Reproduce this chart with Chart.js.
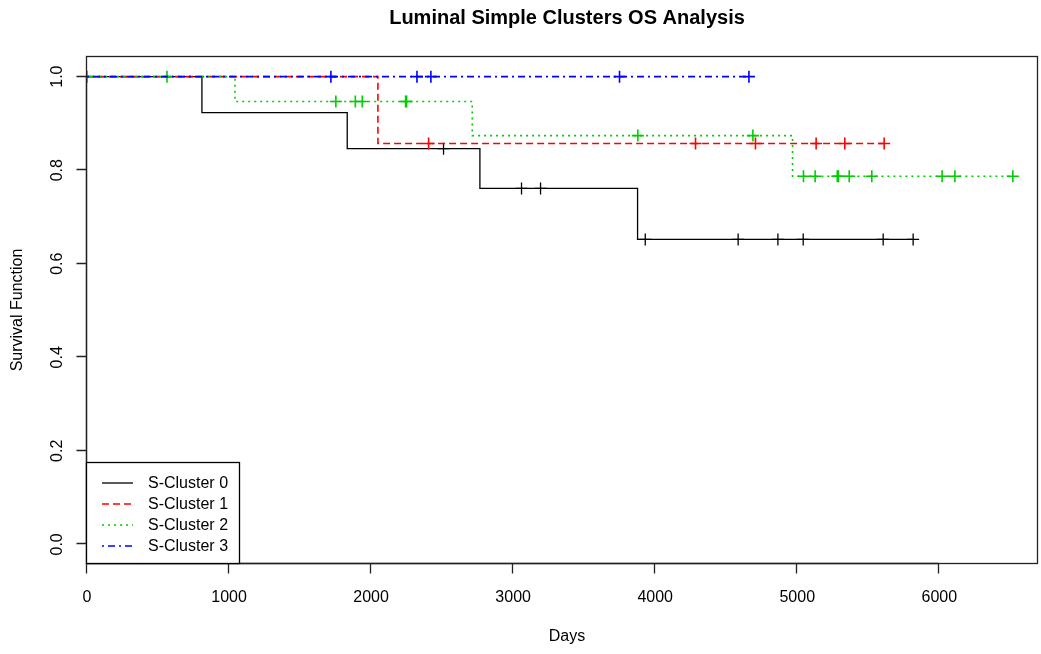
<!DOCTYPE html>
<html>
<head>
<meta charset="utf-8">
<title>Luminal Simple Clusters OS Analysis</title>
<script src="https://cdn.jsdelivr.net/npm/chart.js@4.4.1/dist/chart.umd.min.js"></script>
<style>
  html, body { margin: 0; padding: 0; background: #ffffff; overflow: hidden; }
  #km { display: block; }
</style>
</head>
<body>
<canvas id="km" width="1041" height="654"></canvas>
<script>
// Kaplan-Meier curves: event days with the survival level after each event,
// plus censoring days (drawn as "+" marks on the curve).
const clusterNames = ['S-Cluster 0', 'S-Cluster 1', 'S-Cluster 2', 'S-Cluster 3'];

const cluster0EventDays = [809, 1832, 2766, 3876];
const cluster0Survival  = [0.923, 0.846, 0.761, 0.652];
const cluster0CensorDays = [2510, 3059, 3193, 3930, 4584, 4864, 5042, 5605, 5816];

const cluster1EventDays = [2048];
const cluster1Survival  = [0.857];
const cluster1CensorDays = [2405, 4284, 4706, 5133, 5335, 5612];

const cluster2EventDays = [1042, 2712, 4967];
const cluster2Survival  = [0.947, 0.874, 0.787];
const cluster2CensorDays = [0, 563, 1752, 1889, 1938, 2243, 2250, 3878, 4688,
                            5044, 5126, 5282, 5290, 5366, 5525, 6020, 6110, 6518];

const cluster3EventDays = [];
const cluster3Survival  = [];
const cluster3CensorDays = [1717, 2323, 2421, 3749, 4660];

const dayTicks = [0, 1000, 2000, 3000, 4000, 5000, 6000];
const survivalTicks = [0.0, 0.2, 0.4, 0.6, 0.8, 1.0];
const survivalTickLabels = ['0.0', '0.2', '0.4', '0.6', '0.8', '1.0'];

const clusterColors = ['#000000', '#ff0000', '#00cd00', '#0000ff'];
const clusterDashes = [[], [7, 4], [2, 4], [2, 4, 7, 4]];
const clusterWidths = [1.3, 1.6, 1.6, 1.6];

const FONT = "'Liberation Sans', Arial, Helvetica, sans-serif";

function curvePoints(events, surv, censors) {
  const pts = [{ x: 0, y: 1 }];
  events.forEach((d, i) => pts.push({ x: d, y: surv[i] }));
  const lastDay = Math.max(...censors, ...events);
  pts.push({ x: lastDay, y: pts[pts.length - 1].y });
  return pts;
}

function levelAt(events, surv, day) {
  let s = 1;
  events.forEach((d, i) => { if (d <= day) s = surv[i]; });
  return s;
}

function censorPoints(events, surv, censors) {
  return censors.map(d => ({ x: d, y: levelAt(events, surv, d) }));
}

const groups = [
  [cluster0EventDays, cluster0Survival, cluster0CensorDays],
  [cluster1EventDays, cluster1Survival, cluster1CensorDays],
  [cluster2EventDays, cluster2Survival, cluster2CensorDays],
  [cluster3EventDays, cluster3Survival, cluster3CensorDays]
];

const datasets = [];
groups.forEach((g, i) => {
  datasets.push({
    label: clusterNames[i],
    data: curvePoints(g[0], g[1], g[2]),
    showLine: true,
    stepped: 'before',
    borderColor: clusterColors[i],
    borderWidth: clusterWidths[i],
    borderDash: clusterDashes[i],
    pointRadius: 0,
    fill: false,
    order: 10 - 2 * i
  });
  datasets.push({
    label: clusterNames[i] + ' censored',
    data: censorPoints(g[0], g[1], g[2]),
    showLine: false,
    pointStyle: 'cross',
    pointRadius: 6,
    pointBorderWidth: clusterWidths[i],
    pointBorderColor: clusterColors[i],
    pointBackgroundColor: clusterColors[i],
    order: 9 - 2 * i
  });
});

// Box, axes, labels, title and legend in the classic base-graphics style.
const frame = {
  id: 'frame',
  afterDraw(chart) {
    const ctx = chart.ctx;
    const a = chart.chartArea;
    const xs = chart.scales.x, ys = chart.scales.y;
    ctx.save();
    ctx.strokeStyle = '#222';
    ctx.lineWidth = 1.3;
    ctx.setLineDash([]);
    // plot box
    ctx.strokeRect(Math.round(a.left) - 0.5, Math.round(a.top) - 0.5,
                   Math.round(a.right - a.left), Math.round(a.bottom - a.top));

    ctx.fillStyle = '#000';
    ctx.font = '16px ' + FONT;

    // x axis
    const xb = Math.round(a.bottom) - 0.5;
    ctx.beginPath();
    ctx.moveTo(Math.round(xs.getPixelForValue(dayTicks[0])) - 0.5, xb);
    ctx.lineTo(Math.round(xs.getPixelForValue(dayTicks[dayTicks.length - 1])) - 0.5, xb);
    dayTicks.forEach(v => {
      const px = Math.round(xs.getPixelForValue(v)) - 0.5;
      ctx.moveTo(px, xb);
      ctx.lineTo(px, xb + 10);
    });
    ctx.stroke();
    ctx.textAlign = 'center';
    ctx.textBaseline = 'middle';
    dayTicks.forEach(v => {
      ctx.fillText(String(v), xs.getPixelForValue(v), 598);
    });

    // y axis
    const yl = Math.round(a.left) - 0.5;
    ctx.beginPath();
    ctx.moveTo(yl, Math.round(ys.getPixelForValue(survivalTicks[0])) - 0.5);
    ctx.lineTo(yl, Math.round(ys.getPixelForValue(survivalTicks[survivalTicks.length - 1])) - 0.5);
    survivalTicks.forEach(v => {
      const py = Math.round(ys.getPixelForValue(v)) - 0.5;
      ctx.moveTo(yl, py);
      ctx.lineTo(yl - 10, py);
    });
    ctx.stroke();
    survivalTicks.forEach((v, i) => {
      ctx.save();
      ctx.translate(58, ys.getPixelForValue(v));
      ctx.rotate(-Math.PI / 2);
      ctx.fillText(survivalTickLabels[i], 0, 0);
      ctx.restore();
    });

    // axis titles
    ctx.fillText('Days', 567, 637);
    ctx.save();
    ctx.translate(18, 310);
    ctx.rotate(-Math.PI / 2);
    ctx.fillText('Survival Function', 0, 0);
    ctx.restore();

    // main title
    ctx.font = 'bold 20px ' + FONT;
    ctx.fillText('Luminal Simple Clusters OS Analysis', 567, 18);

    // legend
    const lx = Math.round(a.left) - 0.5, lr = 239.5, lt = 462.5, lb = Math.round(a.bottom) - 0.5;
    ctx.fillStyle = '#fff';
    ctx.fillRect(lx, lt, lr - lx, lb - lt);
    ctx.strokeStyle = '#000';
    ctx.strokeRect(lx, lt, lr - lx, lb - lt);
    ctx.font = '16px ' + FONT;
    ctx.textAlign = 'left';
    const rowY = [483, 504, 525, 546];
    clusterNames.forEach((name, i) => {
      ctx.strokeStyle = clusterColors[i];
      ctx.lineWidth = clusterWidths[i];
      ctx.setLineDash(clusterDashes[i]);
      ctx.beginPath();
      ctx.moveTo(102, rowY[i]);
      ctx.lineTo(133, rowY[i]);
      ctx.stroke();
      ctx.setLineDash([]);
      ctx.fillStyle = '#000';
      ctx.fillText(name, 148, rowY[i] + 1);
    });
    ctx.restore();
  }
};

new Chart(document.getElementById('km'), {
  type: 'scatter',
  data: { datasets },
  options: {
    responsive: false,
    maintainAspectRatio: false,
    devicePixelRatio: 1,
    animation: false,
    layout: { autoPadding: false, padding: { left: 87, right: 3, top: 57, bottom: 90 } },
    plugins: { legend: { display: false }, tooltip: { enabled: false }, title: { display: false } },
    scales: {
      x: { type: 'linear', min: 0, max: 6695, display: false },
      y: { type: 'linear', min: -0.042, max: 1.042, display: false }
    }
  },
  plugins: [frame]
});
</script>
</body>
</html>
